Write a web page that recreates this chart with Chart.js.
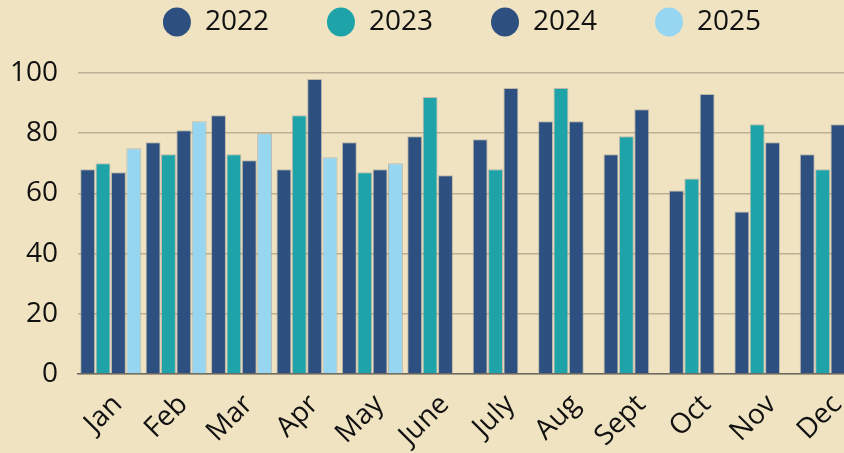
<!DOCTYPE html>
<html>
<head>
<meta charset="utf-8">
<script src="https://cdn.jsdelivr.net/npm/chart.js@4/dist/chart.umd.min.js"></script>
<style>
  html, body { margin: 0; padding: 0; overflow: hidden; background: #f0e3c2; }
  #box { width: 934px; height: 509px; margin-top: -50px; }
</style>
</head>
<body>
<div id="box"><canvas id="graph" width="934" height="509"></canvas></div>
<script>
// dados do gráfico
const meses = ['Jan', 'Feb', 'Mar', 'Apr', 'May', 'June', 'July', 'Aug', 'Sept', 'Oct', 'Nov', 'Dec']
const anos = ['2022', '2023', '2024', '2025']
const v2022 = [68, 77, 86, 68, 77, 79, 78, 84, 73, 61, 54, 73]
const v2023 = [70, 73, 73, 86, 67, 92, 68, 95, 79, 65, 83, 68]
const v2024 = [67, 81, 71, 98, 68, 66, 95, 84, 88, 93, 77, 83]
const v2025 = [75, 84, 80, 72, 70, null, null, null, null, null, null, null]
const yTicks = [0, 20, 40, 60, 80, 100]

const cores = ['#2e5080', '#1ea4a8', '#2e5080', '#97d6f0']
const series = [v2022, v2023, v2024, v2025]

const fonte = { family: "'Open Sans', sans-serif", size: 28 }

// espaço extra entre a legenda e o gráfico
const legendGap = {
  id: 'legendGap',
  beforeInit(chart) {
    const fit = chart.legend.fit
    chart.legend.fit = function () {
      fit.bind(chart.legend)()
      this.height += 27
    }
  }
}

const ctx = document.getElementById('graph').getContext('2d')
const chart = new Chart(ctx, {
  type: 'bar',
  data: {
    labels: meses,
    datasets: anos.map((ano, i) => ({
      label: ano,
      data: series[i],
      backgroundColor: cores[i],
      borderColor: 'rgba(150,150,150,0.55)',
      borderWidth: 1,
      categoryPercentage: 0.94,
      barPercentage: 0.97
    }))
  },
  plugins: [legendGap],
  options: {
    responsive: false,
    animation: false,
    layout: { padding: { left: -10, right: 0, top: 0, bottom: 0 } },
    plugins: {
      tooltip: { enabled: false },
      legend: {
        position: 'top',
        labels: {
          usePointStyle: true,
          pointStyle: 'circle',
          boxHeight: 20.5,
          pointStyleWidth: 28,
          padding: 58,
          color: '#111',
          font: fonte,
          generateLabels: (c) => {
            const items = Chart.defaults.plugins.legend.labels.generateLabels(c)
            items.forEach(it => { it.lineWidth = 0 })
            return items
          }
        }
      }
    },
    scales: {
      x: {
        grid: { display: false },
        border: { display: true, color: '#6f6a60', width: 1.5 },
        ticks: { color: '#111', font: fonte, maxRotation: 45, minRotation: 45, padding: 6, labelOffset: 7 }
      },
      y: {
        min: 0,
        max: 100,
        afterBuildTicks: (axis) => { axis.ticks = yTicks.map(v => ({ value: v })) },
        grid: { color: '#bdb096', lineWidth: 1.5, drawTicks: false },
        border: { display: false },
        ticks: { color: '#111', font: fonte, padding: 20 }
      },
      // eixo vazio à direita, só para reservar espaço
      y2: {
        position: 'right',
        grid: { display: false },
        border: { display: false },
        ticks: { display: false },
        afterFit: (axis) => { axis.width = 71 }
      }
    }
  }
})
</script>
</body>
</html>
